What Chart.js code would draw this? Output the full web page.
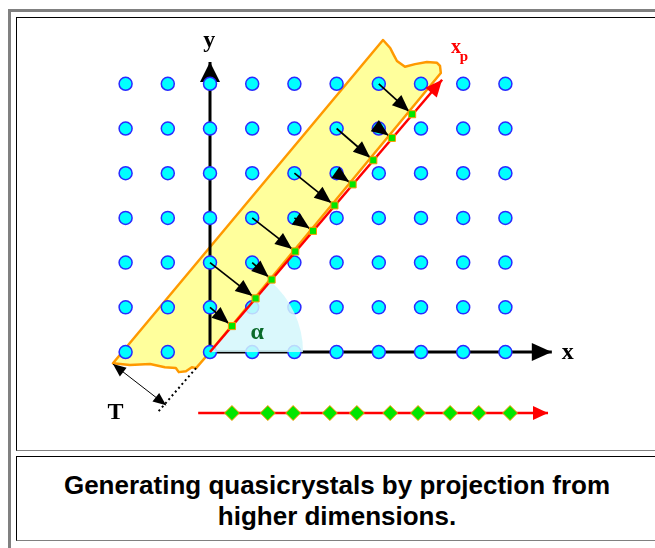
<!DOCTYPE html>
<html>
<head>
<meta charset="utf-8">
<script src="https://cdn.jsdelivr.net/npm/chart.js@4.4.1/dist/chart.umd.min.js"></script>
<style>
  html, body { margin: 0; padding: 0; background: #fff; overflow: hidden; }
  #outer { position: absolute; left: 8px; top: 9px; width: 700px; height: 600px; border: 3px solid #808080; }
  .cell { position: absolute; left: 16px; width: 642px; border: 1px solid; border-color: #000 #808080 #808080 #000; }
  #diagram { top: 17px; height: 432px; }
  #caption { top: 456px; height: 85px; font: bold 26px "Liberation Sans", Arial, sans-serif; text-align: center; line-height: 31px; box-sizing: border-box; padding-top: 13px; color: #000; }
  #chart { position: absolute; left: 0; top: 0; }
</style>
</head>
<body>
<div id="outer"></div>
<div class="cell" id="diagram"><canvas id="chart" width="642" height="432"></canvas></div>
<div class="cell" id="caption">Generating quasicrystals by projection from<br>higher dimensions.</div>
<script>
// Lattice (integer grid units)
const latticeCols = [-2, -1, 0, 1, 2, 3, 4, 5, 6, 7];
const latticeRows = [0, 1, 2, 3, 4, 5, 6];

// Strip outline (torn top and bottom edges)
const stripOutline = [
  [0, 0], [5.47, 6.24], [5.45, 6.40], [5.38, 6.47], [5.14, 6.49], [4.86, 6.44],
  [4.62, 6.38], [4.43, 6.51], [4.34, 6.67], [4.27, 6.80], [4.10, 6.98],
  [-2.30, -0.25], [-1.90, -0.29], [-1.42, -0.27], [-1.07, -0.34], [-0.81, -0.36],
  [-0.74, -0.45], [-0.57, -0.43], [-0.43, -0.34], [-0.33, -0.36], [0, 0]
];

// Projection line x_p and the width marker T
const xpLine = [[0, 0], [5.50, 6.09]];
const tDotted = [[-0.33, -0.36], [-1.26, -1.37]];
const tArrow = [[-2.30, -0.27], [-1.04, -1.19]];
const xAxisEnd = 8.10;
const yAxisEnd = 6.49;

// Lattice points inside the strip and where they land on x_p
const arrowFrom = [[0, 1], [0, 2], [1, 2], [1, 3], [2, 3], [2, 4], [3, 4], [3, 5], [4, 5], [4, 6]];
const projected = [[0.52, 0.58], [1.08, 1.20], [1.46, 1.62], [2.02, 2.25], [2.44, 2.71],
                   [2.95, 3.28], [3.38, 3.75], [3.87, 4.29], [4.31, 4.79], [4.79, 5.32]];

// The resulting 1D quasicrystal
const chainX = [0.52, 1.37, 1.97, 2.84, 3.48, 4.27, 4.93, 5.69, 6.37, 7.11];
const chainY = -1.365;
const chainStart = -0.28;
const chainEnd = 8.01;

const pts = arr => arr.map(p => ({ x: p[0], y: p[1] }));

function lineSet(label, data, color, width, extra) {
  return Object.assign({
    label: label, data: data, showLine: true, fill: false,
    borderColor: color, borderWidth: width, pointRadius: 0, tension: 0
  }, extra || {});
}

const datasets = [];
datasets.push(lineSet('strip', pts(stripOutline), '#ff9900', 2.5,
  { fill: 'shape', backgroundColor: '#ffff9c', borderJoinStyle: 'round' }));
datasets.push(lineSet('xaxis', pts([[0, 0], [xAxisEnd, 0]]), '#000', 3,
  { head: { len: 20, width: 18, color: '#000' } }));
datasets.push(lineSet('yaxis', pts([[0, 0], [0, yAxisEnd]]), '#000', 3,
  { head: { len: 20, width: 20, color: '#000' } }));
datasets.push({
  label: 'lattice',
  data: latticeRows.flatMap(r => latticeCols.map(c => ({ x: c, y: r }))),
  pointRadius: 6.5, pointBackgroundColor: '#00ffff', pointBorderColor: '#2a2aff',
  pointBorderWidth: 1.5, showLine: false, sector: true
});
datasets.push(lineSet('xp', pts(xpLine), '#ff0000', 2.5,
  { head: { len: 17, width: 15, color: '#ff0000' } }));
datasets.push(lineSet('tdot', pts(tDotted), '#000', 2, { borderDash: [2, 3] }));
datasets.push(lineSet('tarrow', pts(tArrow), '#000', 1,
  { head: { len: 13, width: 11, color: '#000', both: true } }));
arrowFrom.forEach((p, i) => {
  datasets.push(lineSet('proj' + i, pts([p, projected[i]]), '#000', 1.7,
    { head: { len: 17, width: 14, color: '#000', back: 4 } }));
});
datasets.push({
  label: 'projected', data: pts(projected), pointStyle: 'rect', pointRadius: 5,
  pointBackgroundColor: '#00e600', pointBorderColor: '#ff9900', pointBorderWidth: 1, showLine: false
});
datasets.push(lineSet('chain', pts([[chainStart, chainY], [chainEnd, chainY]]), '#ff0000', 2.5,
  { head: { len: 15, width: 14, color: '#ff0000' } }));
datasets.push({
  label: 'chainPoints', data: chainX.map(x => ({ x: x, y: chainY })), pointStyle: 'rectRot',
  pointRadius: 7.5, pointBackgroundColor: '#00e600', pointBorderColor: '#ff9900', pointBorderWidth: 1, showLine: false
});
// later datasets on top
datasets.forEach((d, i) => { d.order = datasets.length - i; });

function drawHead(ctx, from, to, h) {
  const ang = Math.atan2(to.y - from.y, to.x - from.x);
  const back = h.back || 0;
  ctx.save();
  ctx.translate(to.x - back * Math.cos(ang), to.y - back * Math.sin(ang));
  ctx.rotate(ang);
  ctx.beginPath();
  ctx.moveTo(0, 0);
  ctx.lineTo(-h.len, h.width / 2);
  ctx.lineTo(-h.len, -h.width / 2);
  ctx.closePath();
  ctx.fillStyle = h.color;
  ctx.fill();
  ctx.restore();
}

const overlay = {
  id: 'overlay',
  afterDatasetDraw(chart, args) {
    const ds = chart.data.datasets[args.index];
    const ctx = chart.ctx;
    const sx = chart.scales.x, sy = chart.scales.y;
    if (ds.sector) {
      // angle between x axis and x_p
      const ox = sx.getPixelForValue(0), oy = sy.getPixelForValue(0);
      const tx = sx.getPixelForValue(xpLine[1][0]), ty = sy.getPixelForValue(xpLine[1][1]);
      const a = Math.atan2(ty - oy, tx - ox);
      ctx.save();
      ctx.beginPath();
      ctx.moveTo(ox, oy);
      ctx.arc(ox, oy, 93, a, 0);
      ctx.closePath();
      ctx.fillStyle = 'rgba(212, 247, 251, 0.85)';
      ctx.fill();
      ctx.restore();
    }
    if (ds.head) {
      const el = args.meta.data;
      const n = el.length;
      drawHead(ctx, el[n - 2], el[n - 1], ds.head);
      if (ds.head.both) drawHead(ctx, el[1], el[0], ds.head);
    }
  },
  afterDatasetsDraw(chart) {
    const ctx = chart.ctx;
    const sx = chart.scales.x, sy = chart.scales.y;
    const text = (s, x, y, font, color) => {
      ctx.font = font;
      ctx.fillStyle = color;
      ctx.textAlign = 'center';
      ctx.textBaseline = 'middle';
      ctx.fillText(s, sx.getPixelForValue(x), sy.getPixelForValue(y));
    };
    ctx.save();
    const serif = '"Liberation Serif", "Times New Roman", serif';
    text('y', -0.02, 6.96, 'bold 24px ' + serif, '#000');
    text('x', 8.48, -0.02, 'bold 24px ' + serif, '#000');
    text('T', -2.24, -1.35, 'bold 24px ' + serif, '#000');
    text('α', 1.12, 0.42, 'bold 24px ' + serif, '#0a6a2a');
    text('x', 5.83, 6.81, 'bold 20px ' + serif, '#ff0000');
    text('p', 6.02, 6.60, 'bold 15px ' + serif, '#ff0000');
    ctx.restore();
  }
};

new Chart(document.getElementById('chart'), {
  type: 'scatter',
  data: { datasets: datasets },
  options: {
    responsive: false,
    animation: false,
    layout: { padding: 0, autoPadding: false },
    scales: {
      x: { type: 'linear', min: -4.5735, max: 10.6398, display: false },
      y: { type: 'linear', min: -2.192, max: 7.472, display: false }
    },
    plugins: { legend: { display: false }, tooltip: { enabled: false } }
  },
  plugins: [overlay]
});
</script>
</body>
</html>
